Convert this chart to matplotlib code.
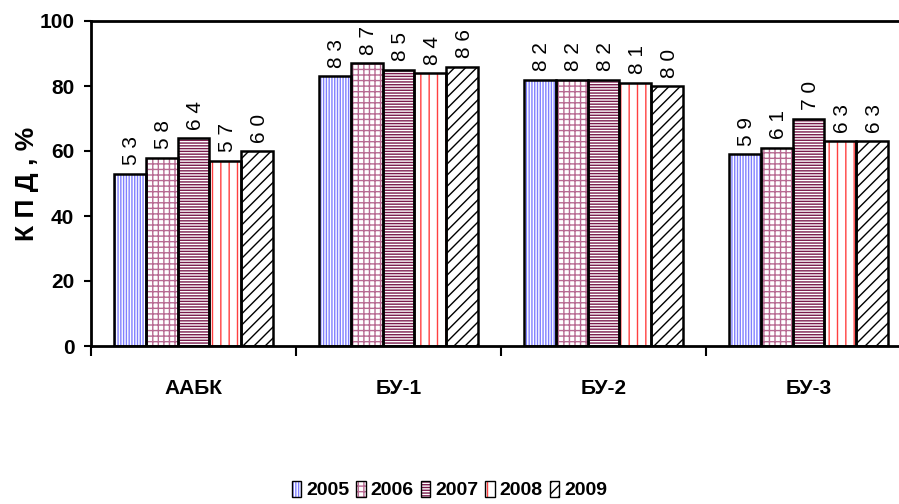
import matplotlib
matplotlib.use("Agg")
import matplotlib.pyplot as plt
import numpy as np

plt.rcParams["font.family"] = ["Liberation Sans", "DejaVu Sans"]
plt.rcParams["hatch.linewidth"] = 1.0

groups = ["ААБК", "БУ-1", "БУ-2", "БУ-3"]
years = ["2005", "2006", "2007", "2008", "2009"]
kpd_2005 = [53, 83, 82, 59]
kpd_2006 = [58, 87, 82, 61]
kpd_2007 = [64, 85, 82, 70]
kpd_2008 = [57, 84, 81, 63]
kpd_2009 = [60, 86, 80, 63]
series = [kpd_2005, kpd_2006, kpd_2007, kpd_2008, kpd_2009]

hatches = ["||||||", "+++", "------", "||", "///"]
hcolors = ["#8080ff", "#b86a92", "#7a1a4c", "#ff4040", "#000000"]

fig = plt.figure(figsize=(8.99, 5.04), dpi=100)
ax = fig.add_axes([91 / 899, 1 - 346 / 504, 820 / 899, 325 / 504])

x = np.arange(len(groups))
w = 0.156
for i, vals in enumerate(series):
    pos = x + (i - 2) * w
    ax.bar(pos, vals, w, color="white", edgecolor=hcolors[i], hatch=hatches[i],
           linewidth=0, zorder=2)
    ax.bar(pos, vals, w, fill=False, edgecolor="black", linewidth=1.8, zorder=3)
    for p, v in zip(pos, vals):
        lab = " ".join(str(v))
        ax.annotate(lab, (p, v), xytext=(1.5, 6), textcoords="offset points",
                    rotation=90, ha="center", va="bottom", fontsize=15)

ax.set_xlim(-0.5, 3.5)
ax.set_ylim(0, 100)
ax.set_yticks([0, 20, 40, 60, 80, 100])
ax.tick_params(axis="y", labelsize=15, width=1.5, length=5, pad=7)
for t in ax.get_yticklabels():
    t.set_fontweight("bold")
ax.set_xticks(x)
ax.set_xticklabels(groups, fontsize=15, fontweight="bold")
ax.tick_params(axis="x", which="major", length=0, pad=24)
ax.set_xticks([-0.5, 0.5, 1.5, 2.5, 3.5], minor=True)
ax.tick_params(axis="x", which="minor", length=7, width=1.5)
for s in ax.spines.values():
    s.set_linewidth(2)
ax.set_ylabel("К П Д , %", fontsize=19, fontweight="bold", labelpad=0)

handles = [plt.Rectangle((0, 0), 1, 1, facecolor="white", edgecolor=hcolors[i],
                         hatch=hatches[i], linewidth=0) for i in range(5)]
handles = [(h, plt.Rectangle((0, 0), 1, 1, fill=False, edgecolor="black", linewidth=1))
           for h in handles]
fig.legend(handles, years, loc="center", bbox_to_anchor=(0.5, 1 - 490 / 504),
           ncol=5, frameon=False, handlelength=0.5, handleheight=0.9,
           handletextpad=0.25, columnspacing=0.35, prop={"weight": "bold", "size": 14})

fig.savefig("out.png", dpi=100)
